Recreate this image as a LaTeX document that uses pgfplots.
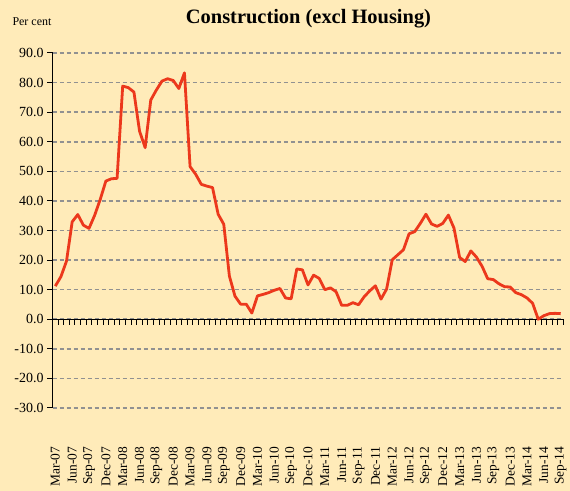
\documentclass[border=0pt]{standalone}
\usepackage{fontspec}
\setmainfont{Liberation Serif}
\usepackage{pgfplots}
\pgfplotsset{compat=1.18}
\definecolor{bg}{RGB}{255,235,185}
\definecolor{linered}{RGB}{236,56,28}
\definecolor{gridgray}{RGB}{145,145,145}
\begin{document}
\begin{tikzpicture}[x=1bp,y=1bp]
\useasboundingbox (0,0) rectangle (570,491);
\fill[bg] (0,0) rectangle (570,491);
\node[anchor=west, font=\fontsize{12}{14}\selectfont] at (9,469) {Per cent};
\node[font=\fontsize{20.5}{24}\selectfont\bfseries] at (308.5,472.5) {Construction (excl Housing)};
\begin{axis}[
  at={(52.5bp,83bp)}, anchor=south west,
  scale only axis, width=511bp, height=355bp,
  xmin=-0.5, xmax=90.5, ymin=-30, ymax=90,
  axis x line*=middle, axis y line*=left,
  axis line style={black, line width=1.2bp},
  ytick={-30,-20,...,90},
  ymajorgrids,
  grid style={gridgray, line width=1.6bp, dash pattern=on 4.5bp off 2.5bp},
  tick align=outside,
  major tick length=5.5bp,
  tick style={black, line width=1bp},
  xtick={-0.5,0.5,...,90.5},
  xticklabels={},
  extra x ticks={0,3,...,90},
  extra x tick labels={Mar-07,Jun-07,Sep-07,Dec-07,Mar-08,Jun-08,Sep-08,Dec-08,Mar-09,Jun-09,Sep-09,Dec-09,Mar-10,Jun-10,Sep-10,Dec-10,Mar-11,Jun-11,Sep-11,Dec-11,Mar-12,Jun-12,Sep-12,Dec-12,Mar-13,Jun-13,Sep-13,Dec-13,Mar-14,Jun-14,Sep-14},
  extra x tick style={major tick length=0pt},
  xticklabel style={rotate=90, anchor=east, font=\fontsize{13.5}{15}\selectfont},
  xticklabel shift=124bp,
  yticklabel style={font=\fontsize{14}{16}\selectfont},
  /pgf/number format/.cd, fixed, fixed zerofill, precision=1, assume math mode=true,
]
\addplot[linered, line width=2.8bp, line join=round, mark=none] coordinates {
(0,11.2) (1,14.4) (2,19.7) (3,32.9) (4,35.4) (5,31.8) (6,30.7) (7,35.1) (8,40.5) (9,46.7)
(10,47.5) (11,47.6) (12,78.8) (13,78.3) (14,76.8) (15,63.6) (16,58.0) (17,74.1) (18,77.5) (19,80.5)
(20,81.3) (21,80.7) (22,78.0) (23,83.3) (24,51.6) (25,49.0) (26,45.6) (27,45.0) (28,44.5) (29,35.5)
(30,32.1) (31,14.6) (32,7.8) (33,5.1) (34,5.1) (35,2.1) (36,7.9) (37,8.4) (38,9.0) (39,9.8)
(40,10.4) (41,7.2) (42,6.9) (43,17.0) (44,16.7) (45,11.6) (46,14.9) (47,13.8) (48,10.0) (49,10.6)
(50,9.3) (51,4.7) (52,4.7) (53,5.6) (54,4.9) (55,7.6) (56,9.6) (57,11.3) (58,6.8) (59,10.2)
(60,20.1) (61,21.8) (62,23.5) (63,28.9) (64,29.6) (65,32.4) (66,35.5) (67,32.2) (68,31.4) (69,32.4)
(70,35.2) (71,30.8) (72,20.9) (73,19.5) (74,23.1) (75,21.0) (76,17.9) (77,13.7) (78,13.4) (79,12.0)
(80,11.0) (81,10.9) (82,9.0) (83,8.3) (84,7.2) (85,5.4) (86,0.0) (87,1.2) (88,1.9) (89,2.0)
(90,1.9)
};
\end{axis}
\end{tikzpicture}
\end{document}
